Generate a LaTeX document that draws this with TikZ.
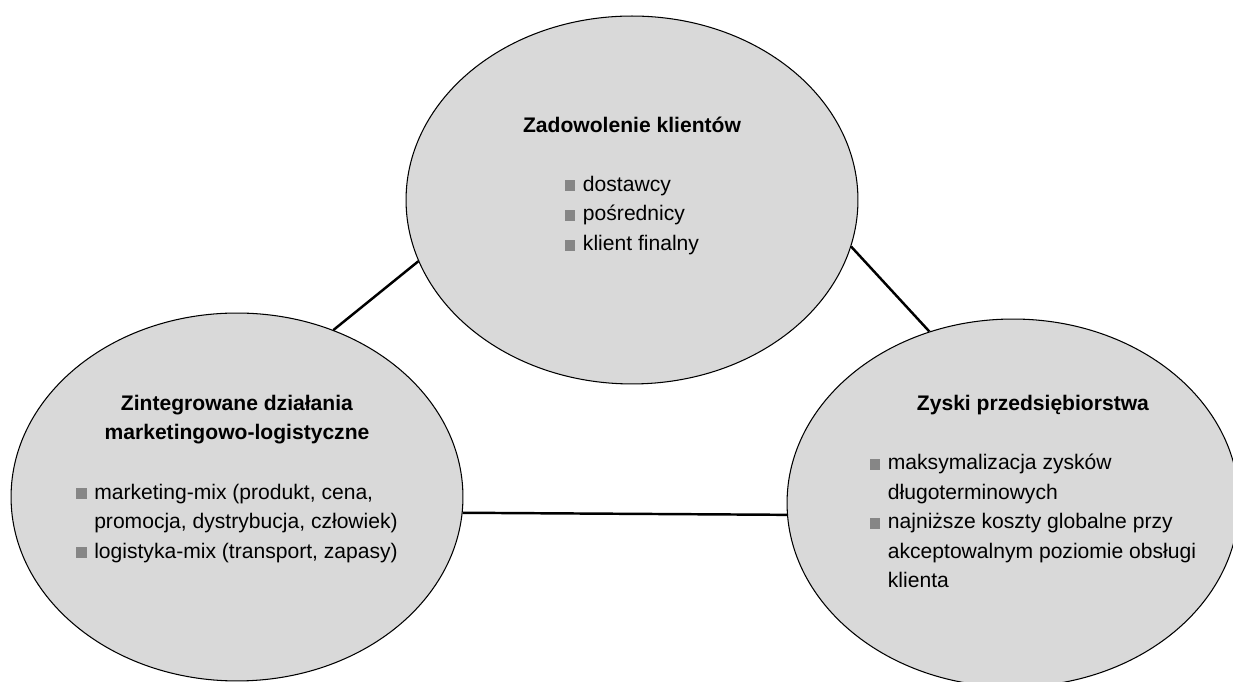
\documentclass[tikz,border=0pt]{standalone}
\usepackage{fontspec}
\setmainfont{Liberation Sans}
\usepackage{xcolor}
\usetikzlibrary{shapes.geometric}

\definecolor{blobgray}{HTML}{D9D9D9}
\definecolor{bulletgray}{HTML}{868686}
\newcommand{\sqbullet}{\textcolor{bulletgray}{\rule{0.21cm}{0.22cm}}}

\begin{document}
\begin{tikzpicture}[x=0.02cm,y=0.02cm,
  blob/.style={draw,ellipse,fill=blobgray,line width=0.6pt,minimum width=9.04cm,minimum height=7.36cm,inner sep=0pt},
  link/.style={line width=1.4pt},
  txt/.style={align=center,font=\fontsize{12}{16.8}\selectfont}]
\useasboundingbox (0,0) rectangle (1233,682);

% the three ellipses
\node[blob] (klienci) at (632,482) {};
\node[blob] (dzialania) at (237,185) {};
\node[blob] (zyski) at (1013,179) {};

\draw[link] (klienci.196.6) -- (dzialania.60);
\draw[link] (klienci.348) -- (zyski.116.7);
\draw[link] (dzialania.-4.6) -- (zyski.183);

% texts
\node[txt] (klienciTxt) at ([yshift=0.24cm]klienci.center) {\textbf{Zadowolenie klientów}\\[17pt]
  \begin{tabular}[t]{@{}l@{\hspace{0.15cm}}l@{}}
  \sqbullet & dostawcy\\
  \sqbullet & pośrednicy\\
  \sqbullet & klient finalny
  \end{tabular}};
\node[txt] (dzialaniaTxt) at ([yshift=0.32cm]dzialania.center) {\textbf{Zintegrowane działania}\\
  \textbf{marketingowo-logistyczne}\\[17pt]
  \begin{tabular}[t]{@{}l@{\hspace{0.15cm}}l@{}}
  \sqbullet & marketing-mix (produkt, cena,\\
            & promocja, dystrybucja, człowiek)\\
  \sqbullet & logistyka-mix (transport, zapasy)
  \end{tabular}};
\node[txt] (zyskiTxt) at ([xshift=0.4cm,yshift=0.14cm]zyski.center) {\textbf{Zyski przedsiębiorstwa}\\[17pt]
  \begin{tabular}[t]{@{}l@{\hspace{0.15cm}}l@{}}
  \sqbullet & maksymalizacja zysków\\
            & długoterminowych\\
  \sqbullet & najniższe koszty globalne przy\\
            & akceptowalnym poziomie obsługi\\
            & klienta
  \end{tabular}};
\end{tikzpicture}
\end{document}
